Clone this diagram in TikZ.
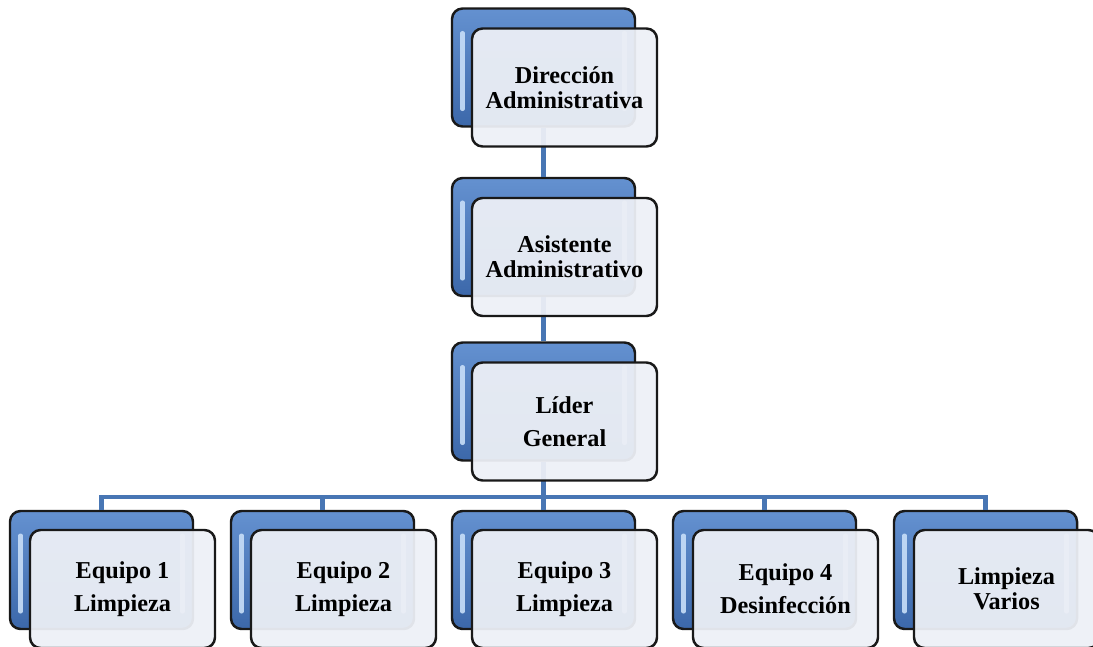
\documentclass[tikz,border=0pt]{standalone}
\usepackage{fontspec}
\setmainfont{Liberation Serif}
\usepackage{tikz}
\usetikzlibrary{positioning,calc}

\definecolor{boxblue}{RGB}{60,104,170}
\definecolor{boxbluelt}{RGB}{100,145,208}
\definecolor{linkblue}{RGB}{72,118,180}
\definecolor{cardfill}{RGB}{237,240,246}
\definecolor{gloss}{RGB}{200,222,248}

\begin{document}
\begin{tikzpicture}[
    back/.style={draw=black!90, line width=1.4pt, rounded corners=6pt, top color=boxbluelt, bottom color=boxblue, minimum width=3.66cm, minimum height=2.36cm,
      path picture={\draw[gloss, opacity=0.9, line width=2.4pt, line cap=round] ([xshift=6pt,yshift=-14pt]path picture bounding box.north west) -- ([xshift=6pt,yshift=10pt]path picture bounding box.south west);
                    \draw[gloss, opacity=0.8, line width=2.4pt, line cap=round] ([xshift=-6pt,yshift=-14pt]path picture bounding box.north east) -- ([xshift=-6pt,yshift=10pt]path picture bounding box.south east);}},
    front/.style={draw=black!90, line width=1.4pt, rounded corners=6pt, fill=cardfill, fill opacity=0.94, text opacity=1, minimum width=3.7cm, minimum height=2.36cm, align=center, font=\bfseries\fontsize{13.8}{14}\selectfont},
    frontwide/.style={front, font=\bfseries\fontsize{13.8}{19}\selectfont},
    link/.style={linkblue, line width=2.6pt}
]
\useasboundingbox (0,0) rectangle (21.86,12.92);
% back cards
\node[back] (dirB) at (10.87,11.57) {};
\node[back] (asiB) at (10.87,8.18) {};
\node[back] (lidB) at (10.87,4.89) {};
\node[back] (eq1B) at (2.03,1.52) {};
\node[back] (eq2B) at (6.45,1.52) {};
\node[back] (eq3B) at (10.87,1.52) {};
\node[back] (eq4B) at (15.29,1.52) {};
\node[back] (varB) at (19.71,1.52) {};
% connectors
\coordinate (bus) at (10.87,2.98);
\draw[link] (dirB.south) -- (asiB.north);
\draw[link] (asiB.south) -- (lidB.north);
\draw[link] (lidB.south) -- (bus) -| (eq1B.north);
\draw[link] (bus) -| (eq2B.north);
\draw[link] (bus) -- (eq3B.north);
\draw[link] (bus) -| (eq4B.north);
\draw[link] (bus) -| (varB.north);
% front cards
\node[front] (dir) at ([shift={(0.42,-0.40)}]dirB) {Dirección\\Administrativa};
\node[front] (asi) at ([shift={(0.42,-0.40)}]asiB) {Asistente\\Administrativo};
\node[frontwide] (lid) at ([shift={(0.42,-0.40)}]lidB) {Líder\\General};
\node[frontwide] (eq1) at ([shift={(0.42,-0.38)}]eq1B) {Equipo 1\\Limpieza};
\node[frontwide] (eq2) at ([shift={(0.42,-0.38)}]eq2B) {Equipo 2\\Limpieza};
\node[frontwide] (eq3) at ([shift={(0.42,-0.38)}]eq3B) {Equipo 3\\Limpieza};
\node[frontwide] (eq4) at ([shift={(0.42,-0.38)}]eq4B) {Equipo 4\\Desinfección};
\node[front] (var) at ([shift={(0.42,-0.38)}]varB) {Limpieza\\Varios};
\end{tikzpicture}
\end{document}
